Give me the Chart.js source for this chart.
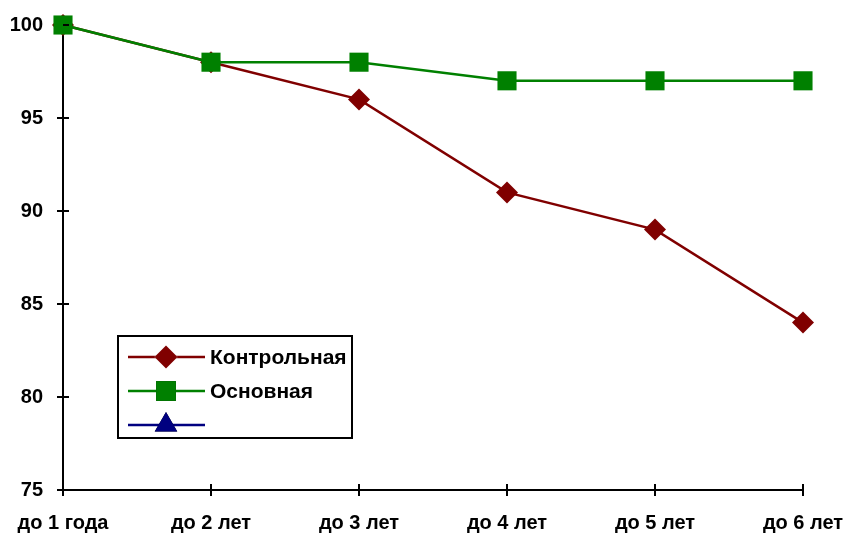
<!DOCTYPE html>
<html>
<head>
<meta charset="utf-8">
<script src="https://cdn.jsdelivr.net/npm/chart.js@4/dist/chart.umd.min.js"></script>
<style>
  html, body { margin: 0; padding: 0; background: #fff; }
  #wrap { width: 846px; height: 535px; position: relative; }
</style>
</head>
<body>
<div id="wrap"><canvas id="chart"></canvas></div>
<script>
// chart data
const categories = ["до 1 года", "до 2 лет", "до 3 лет", "до 4 лет", "до 5 лет", "до 6 лет"];
const controlValues = [100, 98, 96, 91, 89, 84];
const mainValues = [100, 98, 98, 97, 97, 97];
const emptyValues = [null, null, null, null, null, null];
const seriesNames = ["Контрольная", "Основная", ""];
const yTicks = [75, 80, 85, 90, 95, 100];

const FAMILY = "'Liberation Sans', Arial, sans-serif";
const FONT = "bold 21px " + FAMILY;

// tick marks that cross the axis lines (inner half)
const crossTicks = {
    id: "crossTicks",
    afterDatasetsDraw(chart) {
        const { ctx, scales } = chart;
        const x = scales.x, y = scales.y;
        ctx.save();
        ctx.strokeStyle = "#000";
        ctx.lineWidth = 2;
        ctx.beginPath();
        y.ticks.forEach((t, i) => {
            const py = y.getPixelForTick(i);
            ctx.moveTo(x.left, py);
            ctx.lineTo(x.left + 6, py);
        });
        x.ticks.forEach((t, i) => {
            const px = x.getPixelForTick(i);
            ctx.moveTo(px, y.bottom);
            ctx.lineTo(px, y.bottom - 6);
        });
        ctx.stroke();
        ctx.restore();
    }
};

// boxed legend inside the plot area
const boxLegend = {
    id: "boxLegend",
    afterDraw(chart) {
        const { ctx } = chart;
        const bx = 118, by = 336, bw = 234, bh = 102;
        ctx.save();
        ctx.fillStyle = "#fff";
        ctx.fillRect(bx, by, bw, bh);
        ctx.strokeStyle = "#000";
        ctx.lineWidth = 2;
        ctx.strokeRect(bx, by, bw, bh);
        chart.data.datasets.forEach((ds, i) => {
            const cy = by + 21 + i * 34;
            ctx.strokeStyle = ds.borderColor;
            ctx.lineWidth = 2.5;
            ctx.beginPath();
            ctx.moveTo(128, cy);
            ctx.lineTo(205, cy);
            ctx.stroke();
            Chart.helpers.drawPoint(ctx, {
                pointStyle: ds.pointStyle,
                radius: ds.legendRadius,
                borderWidth: 0
            }, 166, cy);
            ctx.fillStyle = ds.pointBackgroundColor;
            ctx.fill();
            ctx.fillStyle = "#000";
            ctx.font = FONT;
            ctx.textBaseline = "middle";
            ctx.fillText(ds.label, 210, cy + 1);
        });
        ctx.restore();
    }
};

new Chart(document.getElementById("chart"), {
    type: "line",
    data: {
        labels: categories,
        datasets: [
            {
                label: seriesNames[0],
                data: controlValues,
                borderColor: "#800000",
                backgroundColor: "#800000",
                pointBackgroundColor: "#800000",
                pointBorderColor: "#800000",
                pointStyle: "rectRot",
                pointRadius: 11,
                legendRadius: 11.5,
                pointBorderWidth: 0,
                borderWidth: 2.5,
                tension: 0,
                clip: false,
                order: 2
            },
            {
                label: seriesNames[1],
                data: mainValues,
                borderColor: "#008000",
                backgroundColor: "#008000",
                pointBackgroundColor: "#008000",
                pointBorderColor: "#008000",
                pointStyle: "rect",
                pointRadius: 13.5,
                legendRadius: 14,
                pointBorderWidth: 0,
                borderWidth: 2.5,
                tension: 0,
                clip: false,
                order: 1
            },
            {
                label: seriesNames[2],
                data: emptyValues,
                borderColor: "#000080",
                backgroundColor: "#000080",
                pointBackgroundColor: "#000080",
                pointStyle: "triangle",
                pointRadius: 12,
                legendRadius: 13,
                borderWidth: 2.5,
                clip: false,
                order: 3
            }
        ]
    },
    options: {
        responsive: true,
        maintainAspectRatio: false,
        animation: false,
        layout: { padding: { left: 0, right: 43, top: 25, bottom: 0 } },
        plugins: {
            legend: { display: false },
            tooltip: { enabled: false }
        },
        scales: {
            x: {
                offset: false,
                afterFit: s => { s.height = 45; s.paddingLeft = 0; s.paddingRight = 0; },
                grid: { display: true, drawOnChartArea: false, drawTicks: true, tickLength: 6, color: "#000", lineWidth: 2 },
                border: { display: true, color: "#000", width: 2 },
                ticks: {
                    color: "#000",
                    font: { family: FAMILY, size: 20, weight: "bold" },
                    padding: 15,
                    maxRotation: 0,
                    autoSkip: false
                }
            },
            y: {
                min: 75,
                max: 100,
                afterFit: s => { s.width = 63; s.paddingTop = 0; s.paddingBottom = 0; },
                afterBuildTicks: s => { s.ticks = yTicks.map(v => ({ value: v })); },
                grid: { display: true, drawOnChartArea: false, drawTicks: true, tickLength: 6, color: "#000", lineWidth: 2 },
                border: { display: true, color: "#000", width: 2 },
                ticks: {
                    color: "#000",
                    font: { family: FAMILY, size: 20, weight: "bold" },
                    padding: 14
                }
            }
        }
    },
    plugins: [crossTicks, boxLegend]
});
</script>
</body>
</html>
